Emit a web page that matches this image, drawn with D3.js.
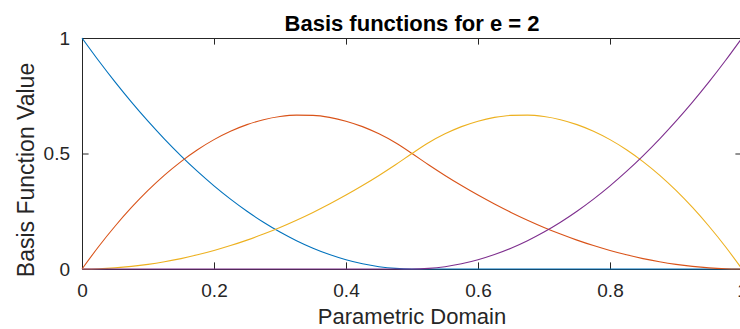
<!DOCTYPE html>
<html>
<head>
<meta charset="utf-8">
<script src="https://cdn.jsdelivr.net/npm/d3@7"></script>
<style>
  html, body { margin: 0; padding: 0; background: #fff; }
  svg { display: block; font-family: "Liberation Sans", Arial, Helvetica, sans-serif; }
</style>
</head>
<body>
<svg id="chart" width="740" height="329"></svg>
<script>
// Sample positions along the parametric domain
const tValues = [0, 0.025, 0.05, 0.075, 0.1, 0.125, 0.15, 0.175, 0.2, 0.225, 0.25,
                 0.275, 0.3, 0.325, 0.35, 0.375, 0.4, 0.425, 0.45, 0.475, 0.5,
                 0.525, 0.55, 0.575, 0.6, 0.625, 0.65, 0.675, 0.7, 0.725, 0.75,
                 0.775, 0.8, 0.825, 0.85, 0.875, 0.9, 0.925, 0.95, 0.975, 1];

// Quadratic basis functions sampled at tValues
const basisN0 = [1, 0.9025, 0.81, 0.7225, 0.64, 0.5625, 0.49, 0.4225, 0.36, 0.3025, 0.25,
                 0.2025, 0.16, 0.1225, 0.09, 0.0625, 0.04, 0.0225, 0.01, 0.0025, 0,
                 0, 0, 0, 0, 0, 0, 0, 0, 0, 0,
                 0, 0, 0, 0, 0, 0, 0, 0, 0, 0];
const basisN1 = [0, 0.0963, 0.185, 0.2663, 0.34, 0.4063, 0.465, 0.5163, 0.56, 0.5963, 0.625,
                 0.6463, 0.66, 0.6663, 0.665, 0.6563, 0.64, 0.6163, 0.585, 0.5463, 0.5,
                 0.4513, 0.405, 0.3613, 0.32, 0.2813, 0.245, 0.2113, 0.18, 0.1513, 0.125,
                 0.1013, 0.08, 0.0613, 0.045, 0.0313, 0.02, 0.0113, 0.005, 0.0013, 0];
const basisN2 = [0, 0.0013, 0.005, 0.0113, 0.02, 0.0313, 0.045, 0.0613, 0.08, 0.1013, 0.125,
                 0.1513, 0.18, 0.2113, 0.245, 0.2813, 0.32, 0.3613, 0.405, 0.4513, 0.5,
                 0.5463, 0.585, 0.6163, 0.64, 0.6563, 0.665, 0.6663, 0.66, 0.6463, 0.625,
                 0.5963, 0.56, 0.5163, 0.465, 0.4063, 0.34, 0.2663, 0.185, 0.0963, 0];
const basisN3 = [0, 0, 0, 0, 0, 0, 0, 0, 0, 0, 0,
                 0, 0, 0, 0, 0, 0, 0, 0, 0, 0,
                 0.0025, 0.01, 0.0225, 0.04, 0.0625, 0.09, 0.1225, 0.16, 0.2025, 0.25,
                 0.3025, 0.36, 0.4225, 0.49, 0.5625, 0.64, 0.7225, 0.81, 0.9025, 1];

const seriesColors = ["#0072BD", "#D95319", "#EDB120", "#7E2F8E"];
const xTicks = [0, 0.2, 0.4, 0.6, 0.8, 1];
const xTickLabels = ["0", "0.2", "0.4", "0.6", "0.8", "1"];
const yTicks = [0, 0.5, 1];
const yTickLabels = ["0", "0.5", "1"];

const titleText = "Basis functions for e = 2";
const xLabelText = "Parametric Domain";
const yLabelText = "Basis Function Value";

const series = [basisN0, basisN1, basisN2, basisN3];

const svg = d3.select("#chart");
const plot = { left: 82, right: 742, top: 38, bottom: 269 };
const axisColor = "#262626";
const tickLen = 6.6;

const x = d3.scaleLinear().domain([0, 1]).range([plot.left, plot.right]);
const y = d3.scaleLinear().domain([0, 1]).range([plot.bottom, plot.top]);

// Axes box with inward ticks on all four sides
const bottomAxis = d3.axisBottom(x).tickValues(xTicks)
  .tickFormat((d, i) => xTickLabels[i]).tickSizeInner(-tickLen).tickSizeOuter(0).tickPadding(15);
const topAxis = d3.axisTop(x).tickValues(xTicks)
  .tickFormat("").tickSizeInner(-tickLen).tickSizeOuter(0);
const leftAxis = d3.axisLeft(y).tickValues(yTicks)
  .tickFormat((d, i) => yTickLabels[i]).tickSizeInner(-tickLen).tickSizeOuter(0).tickPadding(12);
const rightAxis = d3.axisRight(y).tickValues(yTicks)
  .tickFormat("").tickSizeInner(-tickLen).tickSizeOuter(0);

function styleAxis(g) {
  g.select(".domain").attr("stroke", axisColor).attr("stroke-width", 1);
  g.selectAll(".tick line").attr("stroke", axisColor).attr("stroke-width", 1);
  g.selectAll(".tick text").attr("fill", axisColor).style("font-size", "19px")
    .style("font-family", "'Liberation Sans', Arial, Helvetica, sans-serif");
}

svg.append("g").attr("transform", `translate(0,${plot.bottom})`).call(bottomAxis).call(styleAxis);
svg.append("g").attr("transform", `translate(0,${plot.top})`).call(topAxis).call(styleAxis);
svg.append("g").attr("transform", `translate(${plot.left},0)`).call(leftAxis).call(styleAxis);
svg.append("g").attr("transform", `translate(${plot.right},0)`).call(rightAxis).call(styleAxis);

// Basis function curves
const line = d3.line()
  .x((d, i) => x(tValues[i]))
  .y(d => y(d))
  .curve(d3.curveMonotoneX);

svg.append("g").selectAll("path")
  .data(series)
  .join("path")
  .attr("d", d => line(d))
  .attr("fill", "none")
  .attr("stroke", (d, i) => seriesColors[i])
  .attr("stroke-width", 1.1);

// Title and axis labels
svg.append("text")
  .attr("x", (plot.left + plot.right) / 2)
  .attr("y", 31)
  .attr("text-anchor", "middle")
  .attr("fill", "#000")
  .style("font-size", "22px")
  .style("font-weight", "bold")
  .text(titleText);

svg.append("text")
  .attr("x", (plot.left + plot.right) / 2)
  .attr("y", 324)
  .attr("text-anchor", "middle")
  .attr("fill", axisColor)
  .style("font-size", "22px")
  .text(xLabelText);

svg.append("text")
  .attr("transform", `translate(34,170) rotate(-90)`)
  .attr("text-anchor", "middle")
  .attr("fill", axisColor)
  .style("font-size", "23px")
  .text(yLabelText);
</script>
</body>
</html>
